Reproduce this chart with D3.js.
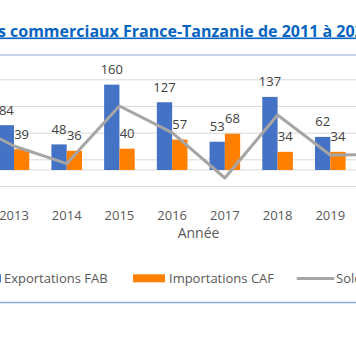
<!DOCTYPE html>
<html>
<head>
<meta charset="utf-8">
<script src="https://cdn.jsdelivr.net/npm/d3@7"></script>
<style>
  body { margin: 0; background: #fff; }
  svg { display: block; font-family: "Open Sans", sans-serif; }
</style>
</head>
<body>
<div id="chart"></div>
<script>
// data
const years = ['2011', '2012', '2013', '2014', '2015', '2016', '2017', '2018', '2019', '2020', '2021', '2022'];
const exportsFAB = [90, 130, 84, 48, 160, 127, 53, 137, 62, 64, 70, 80];
const importsCAF = [40, 35, 39, 36, 40, 57, 68, 34, 34, 35, 40, 45];
const solde = [50, 95, 45, 12, 120, 70, -15, 103, 28, 29, 30, 35];
const seriesNames = ['Exportations FAB', 'Importations CAF', 'Solde'];
const yTicks = [-30, 20, 70, 120, 170];

const w = 356;
const h = 349;
const blue = '#4472c4', orange = '#ff7f00', grey = '#a5a5a5';

const svg = d3.select('#chart')
      .append('svg')
      .attr('width', w)
      .attr('height', h);

// the plot is wider than the window, only the middle shows
const x = d3.scaleBand()
      .domain(years)
      .range([-117.8, 514.8])
      .padding(0);
const groupW = 30.6;
const xs = d3.scaleBand()
      .domain(['exp', 'imp'])
      .range([0, groupW]);
const y = d3.scaleLinear()
      .domain([-30, 170])
      .range([186, 79.3]);

//title
const title = svg.append('text')
      .attr('y', 36.5)
      .style('font-size', '16px')
      .style('font-weight', 'bold')
      .style('fill', '#0563c1')
      .style('text-decoration', 'underline')
      .text('Échanges commerciaux France-Tanzanie de 2011 à 2022');
const pre = title.node().getSubStringLength(0, 9);
title.attr('x', 10 - pre);

// frame lines
svg.append('line')
      .attr('x1', 0).attr('x2', w)
      .attr('y1', 55).attr('y2', 55)
      .style('stroke', '#c8d2ec')
      .style('stroke-width', 2);
svg.append('line')
      .attr('x1', 0).attr('x2', w)
      .attr('y1', 302.5).attr('y2', 302.5)
      .style('stroke', '#8faadc')
      .style('stroke-width', 1.5);

//gridlines
svg.append('g')
      .call(d3.axisLeft(y).tickValues(yTicks).tickSize(-w).tickFormat(''))
      .call(g => g.select('.domain').remove())
      .selectAll('line')
      .style('stroke', '#d9d9d9');
svg.append('line')
      .attr('x1', 0).attr('x2', w)
      .attr('y1', y(0)).attr('y2', y(0))
      .style('stroke', '#d9d9d9');

//bars
const groups = svg.selectAll('.grp')
      .data(years.map((d, i) => ({ year: d, exp: exportsFAB[i], imp: importsCAF[i] })))
      .enter()
      .append('g')
      .attr('transform', (d) => `translate(${x(d.year) + (x.bandwidth() - groupW) / 2},0)`);

const bars = groups.selectAll('rect')
      .data((d) => [{ k: 'exp', v: d.exp }, { k: 'imp', v: d.imp }])
      .enter()
      .append('rect')
      .attr('x', (d) => xs(d.k))
      .attr('width', xs.bandwidth())
      .attr('y', (d) => y(Math.max(0, d.v)))
      .attr('height', (d) => Math.abs(y(d.v) - y(0)))
      .style('fill', (d) => d.k === 'exp' ? blue : orange);

//line
const line = d3.line()
      .x((d, i) => x(years[i]) + x.bandwidth() / 2)
      .y((d) => y(d));
svg.append('path')
      .datum(solde)
      .attr('d', line)
      .style('fill', 'none')
      .style('stroke', grey)
      .style('stroke-width', 3)
      .style('stroke-linejoin', 'round');

// value labels
groups.selectAll('.lbl')
      .data((d) => [{ k: 'exp', v: d.exp }, { k: 'imp', v: d.imp }])
      .enter()
      .append('text')
      .attr('x', (d) => xs(d.k) + xs.bandwidth() / 2)
      .attr('y', (d) => y(d.v) - 10.5)
      .attr('text-anchor', 'middle')
      .style('font-size', '13px')
      .style('fill', '#404040')
      .text((d) => d.v);

// x axis labels
svg.selectAll('.yr')
      .data(years)
      .enter()
      .append('text')
      .attr('x', (d) => x(d) + x.bandwidth() / 2)
      .attr('y', 220)
      .attr('text-anchor', 'middle')
      .style('font-size', '13px')
      .style('fill', '#595959')
      .text((d) => d);

svg.append('text')
      .attr('x', 198.5)
      .attr('y', 238)
      .attr('text-anchor', 'middle')
      .style('font-size', '14px')
      .style('fill', '#595959')
      .text('Année');

//legend
const legend = [
      { name: seriesNames[0], sx: -31, tx: 4, type: 'rect', color: blue },
      { name: seriesNames[1], sx: 133, tx: 169, type: 'rect', color: orange },
      { name: seriesNames[2], sx: 298, tx: 336, type: 'line', color: grey }
];
const lg = svg.selectAll('.lg')
      .data(legend)
      .enter()
      .append('g');
lg.filter((d) => d.type === 'rect')
      .append('rect')
      .attr('x', (d) => d.sx)
      .attr('y', 274.3)
      .attr('width', 32)
      .attr('height', 8)
      .style('fill', (d) => d.color);
lg.filter((d) => d.type === 'line')
      .append('line')
      .attr('x1', (d) => d.sx)
      .attr('x2', (d) => d.sx + 35)
      .attr('y1', 278.5)
      .attr('y2', 278.5)
      .style('stroke', (d) => d.color)
      .style('stroke-width', 3)
      .style('stroke-linecap', 'round');
lg.append('text')
      .attr('x', (d) => d.tx)
      .attr('y', 282.5)
      .style('font-size', '13px')
      .style('fill', '#595959')
      .text((d) => d.name);
</script>
</body>
</html>
